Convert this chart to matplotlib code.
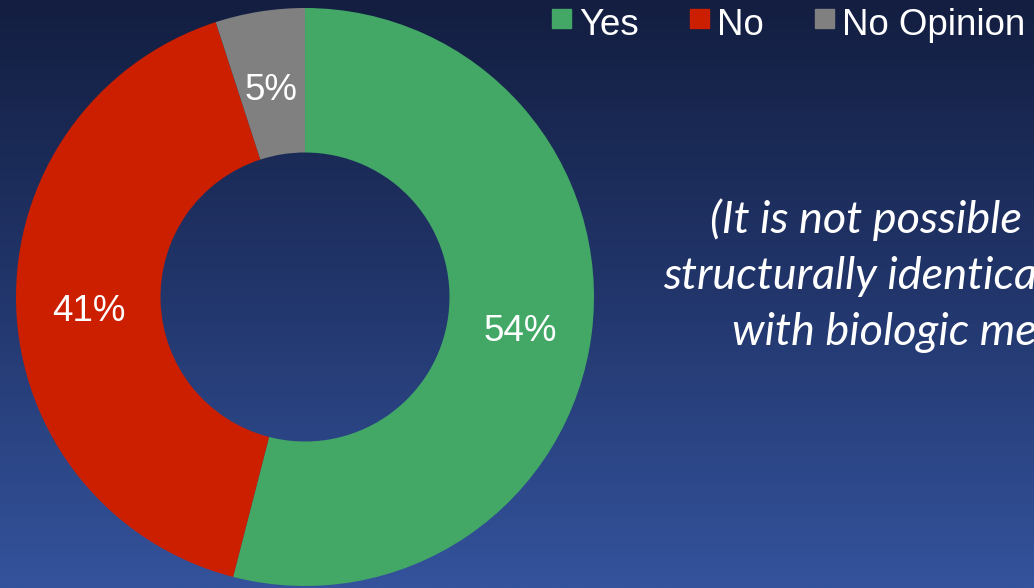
import numpy as np
import matplotlib
matplotlib.use("Agg")
import matplotlib.pyplot as plt
from matplotlib.colors import LinearSegmentedColormap
from matplotlib.patches import Rectangle

# Survey responses
categories = ["Yes", "No", "No Opinion"]
shares = [54, 41, 5]
colors = ["#43a866", "#cc1f00", "#808080"]
note_lines = ["(It is not possible", "structurally identica", "with biologic me"]

W, H = 1034, 588
fig = plt.figure(figsize=(W / 100, H / 100), dpi=100)

# Vertical navy-to-blue backdrop
bg = fig.add_axes([0, 0, 1, 1], zorder=0)
grad = LinearSegmentedColormap.from_list("bg", ["#131e40", "#22366c", "#34539c"])
bg.imshow(np.linspace(0, 1, 256).reshape(-1, 1), cmap=grad, aspect="auto",
          extent=[0, 1, 0, 1], origin="upper")
bg.set_axis_off()

# Donut chart
cx, cy, r = 305, 297, 289
ax = fig.add_axes([(cx - r) / W, (H - cy - r) / H, 2 * r / W, 2 * r / H], zorder=1)
wedges, texts = ax.pie(
    shares, colors=colors, startangle=90, counterclock=False,
    wedgeprops=dict(width=0.5, edgecolor="none"),
    labels=[f"{v}%" for v in shares], labeldistance=0.75,
    textprops=dict(color="white", fontsize=26.5, family="Liberation Sans",
                   ha="center", va="center"),
)
# nudge the percentage labels slightly downward
for t in texts:
    x, y = t.get_position()
    t.set_position((x, y - 0.025))
ax.set_xlim(-1, 1)
ax.set_ylim(-1, 1)
ax.set_axis_off()

# Legend row along the top
leg_x = [552, 690, 815]
for x, lab, col in zip(leg_x, categories, colors):
    fig.patches.append(Rectangle((x / W, (H - 28) / H), 19 / W, 19 / H,
                                 transform=fig.transFigure, color=col, zorder=3))
    fig.text((x + 27) / W, (H - 35) / H, lab, color="white", fontsize=26.4,
             family="Liberation Sans", ha="left", va="baseline", zorder=3)

# Italic note on the right
note_x = [710, 663, 732]
note_y = [233, 289, 345]
for x, y, line in zip(note_x, note_y, note_lines):
    fig.text(x / W, (H - y) / H, line, color="white", fontsize=32.5,
             family="Lato", style="italic", ha="left", va="baseline", zorder=3)

fig.savefig("out.png", dpi=100)
